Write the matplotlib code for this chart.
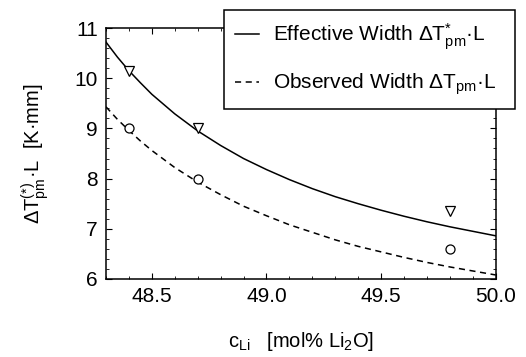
import matplotlib
matplotlib.use('Agg')
import matplotlib.pyplot as plt
from matplotlib.ticker import MultipleLocator, FormatStrFormatter

plt.rcParams['font.family'] = ['Liberation Sans', 'DejaVu Sans']
plt.rcParams['mathtext.fontset'] = 'custom'
plt.rcParams['mathtext.rm'] = 'Liberation Sans'
plt.rcParams['mathtext.it'] = 'Liberation Sans'
plt.rcParams['mathtext.bf'] = 'Liberation Sans:bold'

# measured widths
c_meas = [48.4, 48.7, 49.8]
eff_meas = [10.15, 9.0, 7.35]
obs_meas = [9.0, 8.0, 6.6]

# fitted curves
c_fit = [48.30, 48.35, 48.40, 48.45, 48.50, 48.60, 48.70, 48.80, 48.90, 49.00,
         49.10, 49.20, 49.30, 49.40, 49.50, 49.60, 49.70, 49.80, 49.90, 50.00]
eff_fit = [10.72, 10.42, 10.15, 9.91, 9.68, 9.29, 8.95, 8.66, 8.40, 8.18,
           7.98, 7.80, 7.64, 7.50, 7.37, 7.25, 7.14, 7.04, 6.95, 6.86]
obs_fit = [9.43, 9.18, 8.96, 8.75, 8.56, 8.22, 7.93, 7.68, 7.45, 7.26,
           7.08, 6.93, 6.78, 6.65, 6.54, 6.43, 6.33, 6.24, 6.16, 6.08]

fig = plt.figure(figsize=(5.26, 3.57), dpi=100)
ax = fig.add_axes([0.2015, 0.2185, 0.741, 0.703])

l1, = ax.plot(c_fit, eff_fit, '-', color='black', lw=1.1)
l2, = ax.plot(c_fit, obs_fit, '--', color='black', lw=1.1, dashes=(4, 3))
ax.plot(c_meas, eff_meas, 'v', mfc='white', mec='black', ms=7.5, mew=0.9)
ax.plot(c_meas, obs_meas, 'o', mfc='white', mec='black', ms=6.5, mew=0.9)

ax.set_xlim(48.3, 50.0)
ax.set_ylim(6, 11)
ax.xaxis.set_major_locator(MultipleLocator(0.5))
ax.xaxis.set_minor_locator(MultipleLocator(0.1))
ax.yaxis.set_major_locator(MultipleLocator(1))
ax.yaxis.set_minor_locator(MultipleLocator(0.2))
ax.xaxis.set_major_formatter(FormatStrFormatter('%.1f'))
ax.tick_params(which='both', direction='in', top=True, right=True, labelsize=15)
ax.tick_params(which='major', length=4, width=0.8, pad=6)
ax.tick_params(which='minor', length=2.5, width=0.6)
for s in ax.spines.values():
    s.set_linewidth(1.1)

ax.set_xlabel(r'c$_{\mathrm{Li}}$   [mol% Li$_2$O]', fontsize=14.5, labelpad=17)
ax.set_ylabel(r'$\Delta\mathrm{T}^{(*)}_{\mathrm{pm}}$·L  [K·mm]', fontsize=14.5, labelpad=17)

leg = fig.legend([l1, l2],
                 [r'Effective Width $\Delta\mathrm{T}^{*}_{\mathrm{pm}}$·L',
                  r'Observed Width $\Delta\mathrm{T}_{\mathrm{pm}}$·L'],
                 loc='upper left', bbox_to_anchor=(0.4259, 0.703, 0.5532, 0.269),
                 mode='expand', borderaxespad=0, fontsize=15,
                 fancybox=False, framealpha=1, edgecolor='black',
                 handlelength=1.15, handletextpad=0.65, labelspacing=0.95, borderpad=0.55)
leg.get_frame().set_linewidth(1.1)

fig.savefig('out.png', dpi=100)
